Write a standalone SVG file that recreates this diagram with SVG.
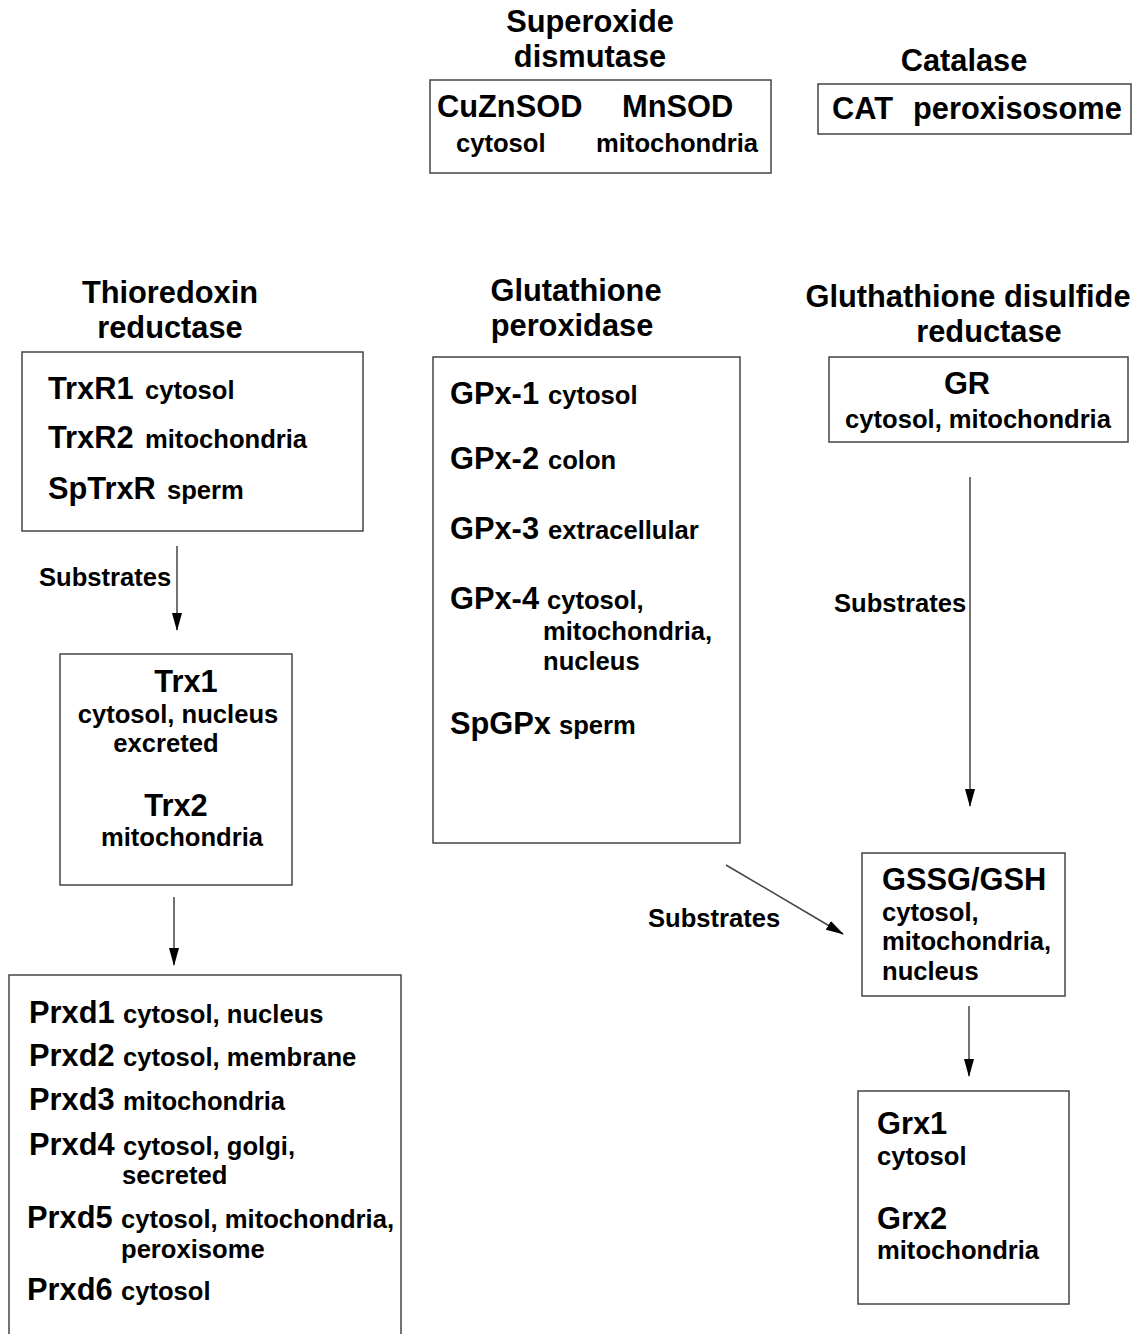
<svg xmlns="http://www.w3.org/2000/svg" width="1144" height="1334" viewBox="0 0 1144 1334">
<defs>
<marker id="ah" markerWidth="18" markerHeight="10" refX="17" refY="5" orient="auto" markerUnits="userSpaceOnUse" viewBox="0 0 18 10">
<path d="M0,0 L18,5 L0,10 Z" fill="#000"/>
</marker>
<style>
text{font-family:"Liberation Sans",Arial,sans-serif;font-weight:bold;fill:#000}
.b{font-size:30.8px}
.s{font-size:25.6px}
.c{text-anchor:middle}
rect{fill:#fff;stroke:#444;stroke-width:1.5}
.conn line{stroke:#444;stroke-width:1.5;marker-end:url(#ah)}
</style>
</defs>
<rect x="0" y="0" width="1144" height="1334" style="fill:#fff;stroke:none"/>

<g id="sod">
<text class="b c" x="590" y="32">Superoxide</text>
<text class="b c" x="590" y="67">dismutase</text>
<rect x="430" y="80" width="341" height="93"/>
<text class="b" x="437" y="117">CuZnSOD</text>
<text class="b" x="622" y="117">MnSOD</text>
<text class="s" x="456" y="152">cytosol</text>
<text class="s" x="596" y="152">mitochondria</text>
</g>

<g id="catalase">
<text class="b c" x="964" y="71">Catalase</text>
<rect x="818" y="84" width="313" height="50"/>
<text class="b" x="832" y="119" xml:space="preserve">CAT  <tspan x="913">peroxisosome</tspan></text>
</g>

<g id="trxr">
<text class="b c" x="170" y="303">Thioredoxin</text>
<text class="b c" x="170" y="338">reductase</text>
<rect x="22" y="352" width="341" height="179"/>
<text x="48" y="399"><tspan class="b">TrxR1</tspan><tspan class="s" x="145">cytosol</tspan></text>
<text x="48" y="448"><tspan class="b">TrxR2</tspan><tspan class="s" x="145">mitochondria</tspan></text>
<text x="48" y="499"><tspan class="b">SpTrxR</tspan><tspan class="s" x="167">sperm</tspan></text>
</g>

<g id="trx">
<rect x="60" y="654" width="232" height="231"/>
<text class="b c" x="186" y="692">Trx1</text>
<text class="s c" x="178" y="723">cytosol, nucleus</text>
<text class="s c" x="166" y="752">excreted</text>
<text class="b c" x="176" y="816">Trx2</text>
<text class="s c" x="182" y="846">mitochondria</text>
</g>

<g id="prxd">
<rect x="9" y="975" width="392" height="380"/>
<text x="29" y="1023"><tspan class="b">Prxd1</tspan><tspan class="s" x="123">cytosol, nucleus</tspan></text>
<text x="29" y="1066"><tspan class="b">Prxd2</tspan><tspan class="s" x="123">cytosol, membrane</tspan></text>
<text x="29" y="1110"><tspan class="b">Prxd3</tspan><tspan class="s" x="123">mitochondria</tspan></text>
<text x="29" y="1155"><tspan class="b">Prxd4</tspan><tspan class="s" x="123">cytosol, golgi,</tspan></text>
<text class="s" x="122" y="1184">secreted</text>
<text x="27" y="1228"><tspan class="b">Prxd5</tspan><tspan class="s" x="121">cytosol, mitochondria,</tspan></text>
<text class="s" x="121" y="1258">peroxisome</text>
<text x="27" y="1300"><tspan class="b">Prxd6</tspan><tspan class="s" x="121">cytosol</tspan></text>
</g>

<g id="gpx">
<text class="b c" x="576" y="301">Glutathione</text>
<text class="b c" x="572" y="336">peroxidase</text>
<rect x="433" y="357" width="307" height="486"/>
<text x="450" y="404"><tspan class="b">GPx-1</tspan><tspan class="s" x="548">cytosol</tspan></text>
<text x="450" y="469"><tspan class="b">GPx-2</tspan><tspan class="s" x="548">colon</tspan></text>
<text x="450" y="539"><tspan class="b">GPx-3</tspan><tspan class="s" x="548">extracellular</tspan></text>
<text x="450" y="609"><tspan class="b">GPx-4</tspan><tspan class="s" x="547">cytosol,</tspan></text>
<text class="s" x="543" y="640">mitochondria,</text>
<text class="s" x="543" y="670">nucleus</text>
<text x="450" y="734"><tspan class="b">SpGPx</tspan><tspan class="s" x="559">sperm</tspan></text>
</g>

<g id="gr">
<text class="b c" x="968" y="307">Gluthathione disulfide</text>
<text class="b c" x="989" y="342">reductase</text>
<rect x="829" y="357" width="299" height="85"/>
<text class="b c" x="967" y="394">GR</text>
<text class="s c" x="978" y="428">cytosol, mitochondria</text>
</g>

<g id="gssg">
<rect x="862" y="853" width="203" height="143"/>
<text class="b" x="882" y="890">GSSG/GSH</text>
<text class="s" x="882" y="921">cytosol,</text>
<text class="s" x="882" y="950">mitochondria,</text>
<text class="s" x="882" y="980">nucleus</text>
</g>

<g id="grx">
<rect x="858" y="1091" width="211" height="213"/>
<text class="b" x="877" y="1134">Grx1</text>
<text class="s" x="877" y="1165">cytosol</text>
<text class="b" x="877" y="1229">Grx2</text>
<text class="s" x="877" y="1259">mitochondria</text>
</g>

<g id="connectors" class="conn">
<line x1="177" y1="546" x2="177" y2="630"/>
<text class="s" x="39" y="586">Substrates</text>
<line x1="174" y1="897" x2="174" y2="965"/>
<line x1="970" y1="477" x2="970" y2="806"/>
<text class="s" x="834" y="612">Substrates</text>
<line x1="726" y1="865" x2="843" y2="934"/>
<text class="s" x="648" y="927">Substrates</text>
<line x1="969" y1="1006" x2="969" y2="1076"/>
</g>
</svg>
